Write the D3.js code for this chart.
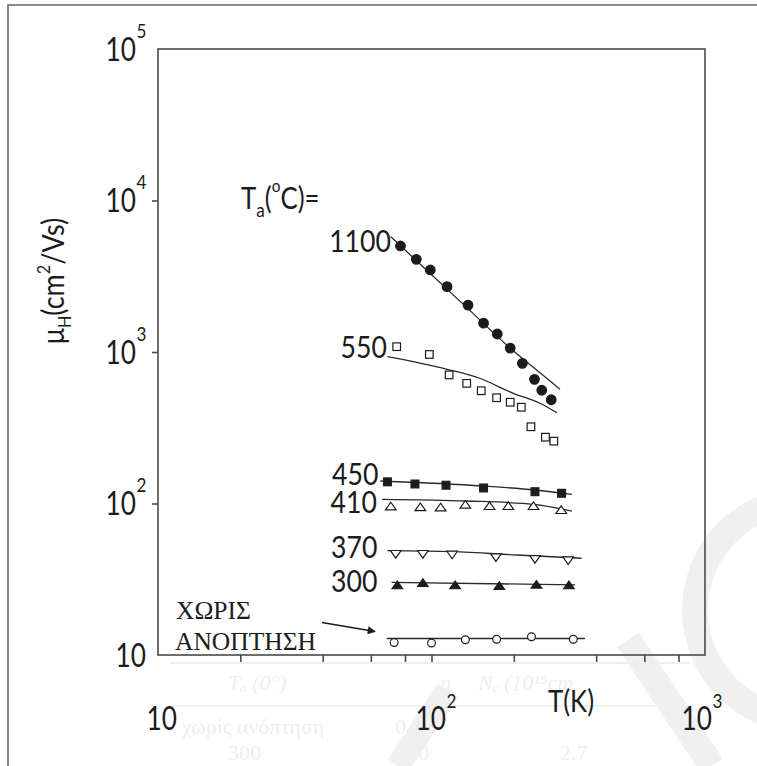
<!DOCTYPE html>
<html>
<head>
<meta charset="utf-8">
<script src="https://cdn.jsdelivr.net/npm/d3@7"></script>
<style>
  html, body { margin: 0; padding: 0; background: #fff; }
  svg { display: block; }
</style>
</head>
<body>
<svg id="chart" width="757" height="766"></svg>
<script>
// Hall mobility vs measurement temperature for samples annealed at different T_a

// --- series: annealing temperature labels
const annealLabels = ["1100", "550", "450", "410", "370", "300"];

// --- measured points (T in K, mobility in cm^2/Vs)
const t1100  = [77, 88, 99, 114, 136, 155, 174, 194, 215, 238, 253, 274];
const mu1100 = [5010, 4090, 3480, 2700, 2040, 1550, 1315, 1060, 842, 660, 559, 484];

const t550  = [74.6, 98.2, 116, 134.5, 152, 173, 194, 213, 231, 261, 280];
const mu550 = [1084, 963, 706, 621, 555, 499, 466, 432, 321, 274, 258];

const t450  = [69, 87, 113, 155, 239, 299];
const mu450 = [139, 134.5, 132, 126.6, 119.6, 116.8];

const t410  = [71, 91, 108, 133, 163, 191, 236, 298];
const mu410 = [96.3, 95.2, 94.8, 98.8, 96.7, 96.7, 96.7, 91.0];

const t370  = [74, 93, 119, 172, 239, 316];
const mu370 = [46.2, 46.2, 45.7, 43.9, 42.8, 41.9];

const t300  = [75, 93, 122, 177, 242, 318];
const mu300 = [29.0, 30.0, 29.0, 28.7, 29.3, 29.0];

const tNone  = [73, 100, 133, 173, 232, 330];
const muNone = [12.1, 12.0, 12.6, 12.7, 13.2, 12.7];

// --- model curves
const fitT1100  = [71, 135.6, 194.2, 250, 295];
const fitMu1100 = [5760, 1940, 1058, 726, 567];

const fitT550  = [69, 114, 150, 199, 249, 287];
const fitMu550 = [931, 769, 671, 534, 459, 398];

const fitT450  = [65, 154, 239, 326];
const fitMu450 = [140.8, 130.5, 122.8, 115];

const fitT410  = [66, 134, 236, 326];
const fitMu410 = [106.6, 103.9, 98.8, 89.2];

const fitT370  = [69, 119, 205, 354];
const fitMu370 = [48.8, 48.1, 45.7, 43.5];

const fitT300  = [71.5, 335];
const fitMu300 = [30.2, 29.0];

const fitTNone  = [68.6, 364];
const fitMuNone = [12.85, 12.85];

// --- axis ticks
const xTicks = [20, 40, 60, 80, 100, 200, 400, 600, 800];
const yTicks = [100, 1000, 10000];
const xTickLabels = [{v: 10, exp: ""}, {v: 100, exp: "2"}, {v: 1000, exp: "3"}];
const yTickLabels = [{v: 1e5, exp: "5"}, {v: 1e4, exp: "4"}, {v: 1e3, exp: "3"}, {v: 1e2, exp: "2"}, {v: 10, exp: ""}];

// ------------------------------------------------------------------
const svg = d3.select("#chart");
const W = 757, H = 766;
const box = {left: 158, top: 49, right: 705, bottom: 655};

const x = d3.scaleLog().domain([10, 1000]).range([box.left, box.right]);
const y = d3.scaleLog().domain([10, 1e5]).range([box.bottom, box.top]);

const SANS = "Lato, 'Open Sans', 'DejaVu Sans', sans-serif";
const SERIF = "'Liberation Serif', 'DejaVu Serif', serif";
const INK = "#1c1c1c";
const AXIS = "#4a4a4a";

svg.append("rect").attr("width", W).attr("height", H).attr("fill", "#fff");

// faint background artefacts (watermark + show-through table)
const bg = svg.append("g").attr("fill", "none").attr("stroke", "#f0f0f0");
bg.append("circle").attr("cx", 805).attr("cy", 610).attr("r", 110).attr("stroke-width", 26);
bg.append("line").attr("x1", 628).attr("y1", 640).attr("x2", 712).attr("y2", 766).attr("stroke-width", 26);
bg.append("line").attr("x1", 398).attr("y1", 766).attr("x2", 448).attr("y2", 690).attr("stroke-width", 24);

const ghost = svg.append("g").attr("fill", "#eceff3").attr("font-family", SERIF).attr("font-size", 22);
ghost.append("line").attr("x1", 170).attr("x2", 690).attr("y1", 663).attr("y2", 663).attr("stroke", "#eceff2").attr("stroke-width", 2);
ghost.append("line").attr("x1", 170).attr("x2", 690).attr("y1", 706).attr("y2", 706).attr("stroke", "#eef0f3").attr("stroke-width", 2);
ghost.append("text").attr("x", 228).attr("y", 690).attr("font-style", "italic").text("T\u2090 (0\u00B0)");
ghost.append("text").attr("x", 440).attr("y", 690).attr("font-style", "italic").text("n");
ghost.append("text").attr("x", 478).attr("y", 690).attr("font-style", "italic").text("N\u2091 (10\u00B9\u2075cm");
ghost.append("text").attr("x", 182).attr("y", 734).text("\u03C7\u03C9\u03C1\u03AF\u03C2 \u03B1\u03BD\u03CC\u03C0\u03C4\u03B7\u03C3\u03B7");
ghost.append("text").attr("x", 395).attr("y", 734).text("0.1");
ghost.append("text").attr("x", 228).attr("y", 760).text("300");
ghost.append("text").attr("x", 418).attr("y", 760).text("0");
ghost.append("text").attr("x", 560).attr("y", 760).text("2.7");

// outer page frame
svg.append("path")
  .attr("d", `M8,766 V5 H757`)
  .attr("fill", "none").attr("stroke", "#666").attr("stroke-width", 1.6);

// plot box
svg.append("rect")
  .attr("x", box.left).attr("y", box.top)
  .attr("width", box.right - box.left).attr("height", box.bottom - box.top)
  .attr("fill", "none").attr("stroke", AXIS).attr("stroke-width", 1.6);

// axes ticks (outward)
const xAxis = svg.append("g").attr("transform", `translate(0,${box.bottom})`)
  .call(d3.axisBottom(x).tickValues(xTicks).tickSize(7).tickFormat(""));
const yAxis = svg.append("g").attr("transform", `translate(${box.left},0)`)
  .call(d3.axisLeft(y).tickValues(yTicks).tickSize(6).tickFormat(""));
[xAxis, yAxis].forEach(a => {
  a.select(".domain").remove();
  a.selectAll(".tick line").attr("stroke", AXIS).attr("stroke-width", 1.6);
});

// horizontally condensed text helper
function label(parent, str, px, py, opt = {}) {
  const t = parent.append("text")
    .attr("transform", `translate(${px},${py}) scale(${opt.sx ?? 0.84},1)`)
    .attr("text-anchor", opt.anchor ?? "start")
    .attr("font-family", opt.family ?? SANS)
    .attr("font-size", opt.size ?? 31)
    .attr("fill", INK)
    .text(str);
  return t;
}

// tick labels: "10" plus superscript exponent
const tl = svg.append("g");
yTickLabels.forEach(d => {
  const yy = y(d.v) + 11.5;
  if (d.exp) {
    label(tl, "10", 136, yy, {anchor: "end", size: 32, sx: 0.82});
    label(tl, d.exp, 136.5, yy - 23, {size: 19, sx: 0.9});
  } else {
    label(tl, "10", 146, yy, {anchor: "end", size: 32, sx: 0.82});
  }
});
const xLabelEnd = {10: 177, 100: 446, 1000: 712};
xTickLabels.forEach(d => {
  const xe = xLabelEnd[d.v];
  label(tl, "10", xe, 730, {anchor: "end", size: 32, sx: 0.82});
  if (d.exp) label(tl, d.exp, xe + 0.5, 708, {size: 19, sx: 0.9});
});

// axis titles
label(svg, "T(K)", 548, 712, {size: 30, sx: 0.86});

const yt = svg.append("text")
  .attr("transform", "translate(64,281) rotate(-90) scale(0.9,1)")
  .attr("text-anchor", "middle")
  .attr("font-family", SANS).attr("font-size", 30).attr("fill", INK);
yt.append("tspan").text("\u03BC");
yt.append("tspan").attr("font-size", 18).attr("dy", 7).text("H");
yt.append("tspan").attr("dy", -7).text("(cm");
yt.append("tspan").attr("font-size", 18).attr("dy", -14).text("2");
yt.append("tspan").attr("dy", 14).text("/Vs)");

// legend heading T_a(°C)=
const ta = svg.append("text")
  .attr("transform", "translate(241,209) scale(0.86,1)")
  .attr("font-family", SANS).attr("font-size", 30).attr("fill", INK);
ta.append("tspan").text("T");
ta.append("tspan").attr("font-size", 20).attr("dy", 8).text("a");
ta.append("tspan").attr("dy", -8).text("(");
ta.append("tspan").attr("font-size", 18).attr("dy", -17).text("o");
ta.append("tspan").attr("dy", 17).text("C)=");

// ------------------------------------------------------------------
// model curves
const lineGen = d3.line().x(d => x(d[0])).y(d => y(d[1])).curve(d3.curveMonotoneX);
const fits = [
  [fitT1100, fitMu1100], [fitT550, fitMu550], [fitT450, fitMu450], [fitT410, fitMu410],
  [fitT370, fitMu370], [fitT300, fitMu300], [fitTNone, fitMuNone]
];
svg.append("g").selectAll("path").data(fits).join("path")
  .attr("d", f => lineGen(d3.zip(f[0], f[1])))
  .attr("fill", "none").attr("stroke", "#2a2a2a").attr("stroke-width", 1.3);

// marker shapes
const tri = (cx, cy, up, hw = 5.3, h = 7.6) => up
  ? `M${cx - hw},${cy + h / 2}L${cx + hw},${cy + h / 2}L${cx},${cy - h / 2}Z`
  : `M${cx - hw},${cy - h / 2}L${cx + hw},${cy - h / 2}L${cx},${cy + h / 2}Z`;

const series = [
  {t: t1100, mu: mu1100, shape: "circle", fill: INK, r: 4.8},
  {t: t550,  mu: mu550,  shape: "square", fill: "#fff", s: 7.6},
  {t: t450,  mu: mu450,  shape: "square", fill: INK, s: 7.8},
  {t: t410,  mu: mu410,  shape: "triUp", fill: "#fff"},
  {t: t370,  mu: mu370,  shape: "triDown", fill: "#fff"},
  {t: t300,  mu: mu300,  shape: "triUp", fill: INK},
  {t: tNone, mu: muNone, shape: "circle", fill: "#fff", r: 3.9}
];

const marks = svg.append("g").attr("stroke", INK).attr("stroke-width", 1.2);
series.forEach(s => {
  const pts = d3.zip(s.t, s.mu);
  const g = marks.append("g");
  if (s.shape === "circle") {
    g.selectAll("circle").data(pts).join("circle")
      .attr("cx", d => x(d[0])).attr("cy", d => y(d[1])).attr("r", s.r).attr("fill", s.fill);
  } else if (s.shape === "square") {
    g.selectAll("rect").data(pts).join("rect")
      .attr("x", d => x(d[0]) - s.s / 2).attr("y", d => y(d[1]) - s.s / 2)
      .attr("width", s.s).attr("height", s.s).attr("fill", s.fill);
  } else {
    const up = s.shape === "triUp";
    g.selectAll("path").data(pts).join("path")
      .attr("d", d => tri(x(d[0]), y(d[1]), up)).attr("fill", s.fill);
  }
});

// curve labels (annealing temperatures)
const curveLabelPos = [[391, 252], [387, 358], [378.5, 485], [377, 513], [377.5, 558], [377.5, 592]];
const cl = svg.append("g");
annealLabels.forEach((txt, i) => {
  label(cl, txt, curveLabelPos[i][0], curveLabelPos[i][1], {anchor: "end", size: 31, sx: 0.86});
});

// unannealed sample label and pointer
const gr = svg.append("g").attr("font-family", SERIF).attr("font-size", 25.5).attr("fill", INK);
gr.append("text").attr("x", 176).attr("y", 619).text("\u03A7\u03A9\u03A1\u0399\u03A3");
gr.append("text").attr("x", 175).attr("y", 650).text("\u0391\u039D\u039F\u03A0\u03A4\u0397\u03A3\u0397");

svg.append("defs").append("marker")
  .attr("id", "head").attr("viewBox", "0 0 10 10").attr("refX", 9).attr("refY", 5)
  .attr("markerWidth", 10).attr("markerHeight", 8).attr("markerUnits", "userSpaceOnUse")
  .attr("orient", "auto")
  .append("path").attr("d", "M0,0L10,5L0,10Z").attr("fill", INK);
svg.append("line")
  .attr("x1", 322).attr("y1", 622.5).attr("x2", 375).attr("y2", 631.5)
  .attr("stroke", INK).attr("stroke-width", 1.6).attr("marker-end", "url(#head)");
</script>
</body>
</html>
